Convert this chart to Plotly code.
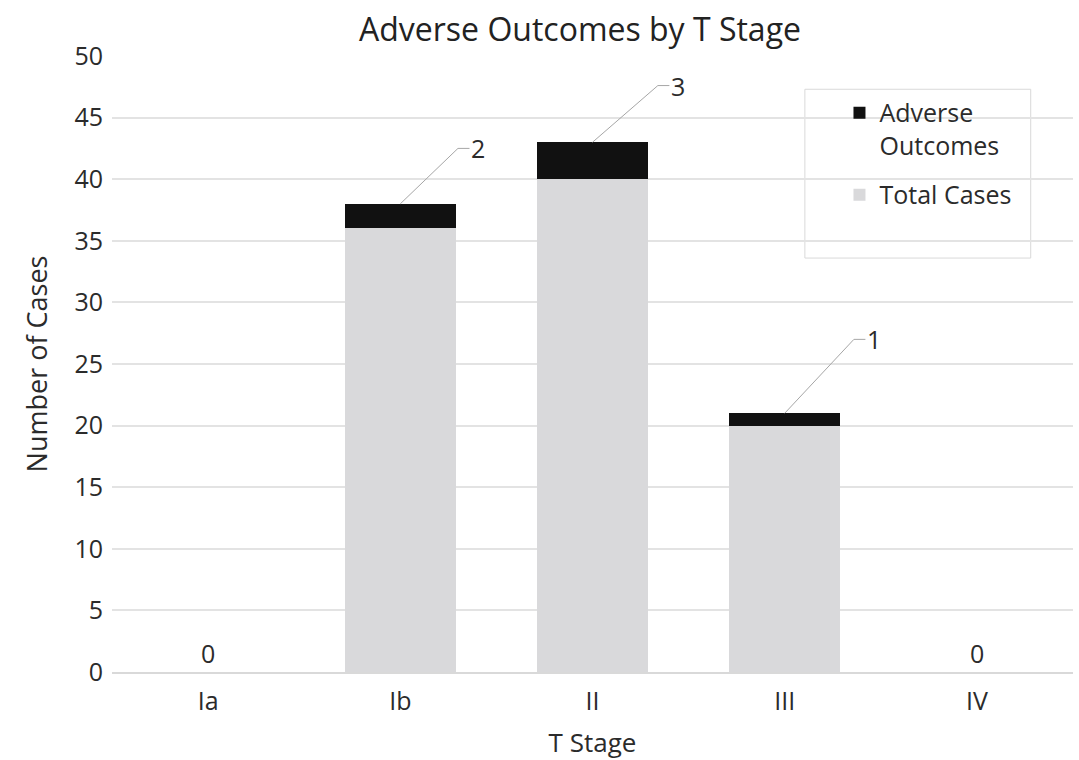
import plotly.graph_objects as go

# Data
stages = ["Ia", "Ib", "II", "III", "IV"]
total_cases = [0, 36, 40, 20, 0]
adverse_outcomes = [0, 2, 3, 1, 0]

# Leader-line offsets for the callout labels (category units, value units)
callout_dx = [0.0, 0.30, 0.34, 0.36, 0.0]
callout_dy = [0.0, 4.5, 4.6, 6.0, 0.0]

FONT = "Open Sans"
TEXT = "#2b2b2b"
xs = list(range(len(stages)))

fig = go.Figure()
fig.add_trace(go.Bar(
    x=xs, y=total_cases, name="Total Cases", legendgroup="total", legendrank=2,
    marker=dict(color="#d9d9db", line=dict(width=0)),
))
fig.add_trace(go.Bar(
    x=xs, y=adverse_outcomes, name="Adverse<br>Outcomes", legendgroup="adverse", legendrank=1,
    marker=dict(color="#111111", line=dict(width=0)),
))

annotations = []
for i, (t, a) in enumerate(zip(total_cases, adverse_outcomes)):
    top = t + a
    if a == 0:
        annotations.append(dict(
            x=i, y=top, text=str(a), showarrow=False, xref="x", yref="y",
            yanchor="bottom", yshift=0, font=dict(family=FONT, size=25, color=TEXT),
        ))
        continue
    ex, ey = i + callout_dx[i], top + callout_dy[i]
    fig.add_trace(go.Scatter(
        x=[i, ex, ex + 0.06], y=[top, ey, ey], mode="lines",
        line=dict(color="#a6a6a6", width=1), showlegend=False, hoverinfo="skip",
    ))
    annotations.append(dict(
        x=ex + 0.06, y=ey, text=str(a), showarrow=False, xref="x", yref="y",
        xanchor="left", yanchor="middle", font=dict(family=FONT, size=25, color=TEXT),
    ))

annotations.append(dict(
    x=0.487, y=1.0, xref="paper", yref="paper", yanchor="bottom", yshift=4,
    text="Adverse Outcomes by T Stage", showarrow=False,
    font=dict(family=FONT, size=32, color="#222222"),
))

fig.update_layout(
    width=1079, height=760,
    margin=dict(l=112, r=6, t=56, b=88),
    paper_bgcolor="white", plot_bgcolor="white",
    barmode="stack", bargap=0.42,
    font=dict(family=FONT, size=25, color=TEXT),
    annotations=annotations,
    showlegend=True,
    legend=dict(
        x=0.757, y=0.945, xanchor="left", yanchor="top",
        traceorder="grouped", bgcolor="rgba(0,0,0,0)", valign="top",
        font=dict(family=FONT, size=25, color=TEXT), tracegroupgap=14,
    ),
    shapes=[dict(
        type="rect", xref="paper", yref="paper",
        x0=0.721, x1=0.956, y0=0.672, y1=0.946,
        line=dict(color="#d9d9d9", width=1), fillcolor="white", layer="below",
    )],
    xaxis=dict(
        tickmode="array", tickvals=xs, ticktext=stages, range=[-0.5, len(stages) - 0.5],
        showgrid=False, zeroline=False, showline=True, linecolor="#d9d9d9", linewidth=1.5,
        ticks="", ticklabelstandoff=6,
        title=dict(text="T Stage", font=dict(family=FONT, size=26, color=TEXT), standoff=18),
    ),
    yaxis=dict(
        range=[0, 50], dtick=5, showgrid=True, gridcolor="#e3e3e3", gridwidth=1.5,
        zeroline=False, showline=False, ticks="", ticklabelstandoff=8,
        title=dict(text="Number of Cases", font=dict(family=FONT, size=27, color=TEXT), standoff=18),
    ),
)

fig.write_html("out.html")
